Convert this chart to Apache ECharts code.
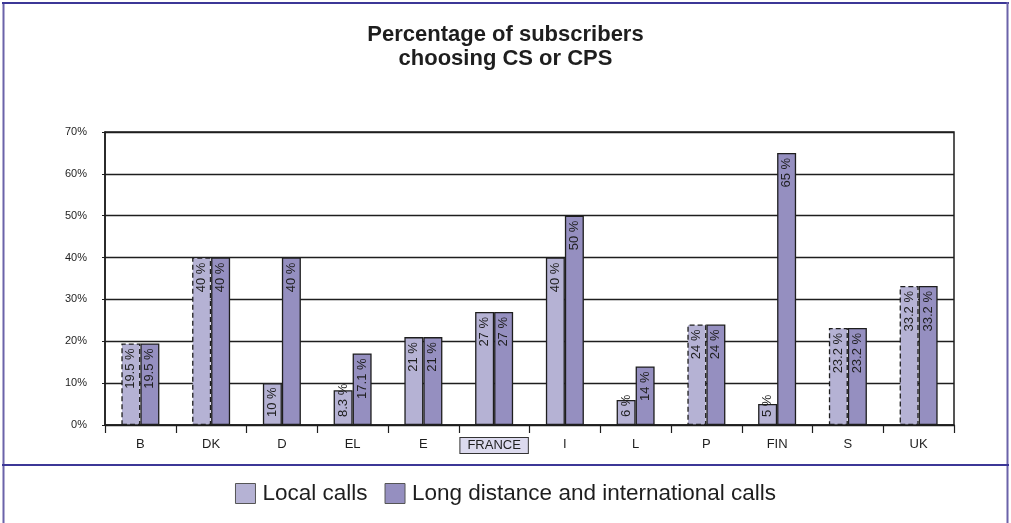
<!DOCTYPE html>
<html>
<head>
<meta charset="utf-8">
<script src="https://cdn.jsdelivr.net/npm/echarts@6/dist/echarts.min.js"></script>
<style>
  html, body { margin: 0; padding: 0; background: #fff; }
  #chart { width: 1011px; height: 523px; }
</style>
</head>
<body>
<div id="chart"></div>
<script>
// Countries and share of subscribers (%) choosing carrier (pre)selection
const countries = ['B', 'DK', 'D', 'EL', 'E', 'FRANCE', 'I', 'L', 'P', 'FIN', 'S', 'UK'];
const localCalls = [19.5, 40, 10, 8.3, 21, 27, 40, 6, 24, 5, 23.2, 33.2];
const longDistanceCalls = [19.5, 40, 40, 17.1, 21, 27, 50, 14, 24, 65, 23.2, 33.2];
// Countries whose local-call figure is outlined with a dashed border
const dashedLocal = ['B', 'DK', 'P', 'S', 'UK'];
const yTicks = [0, 10, 20, 30, 40, 50, 60, 70];

const FONT = '"Liberation Sans", Arial, Helvetica, sans-serif';
const INK = '#1e1e1e';

function barLabel(v) {
  // Short bars carry their label from the base upward, the others hang from the top
  if (v < 12) {
    return { position: 'insideBottom', align: 'left', distance: 8 };
  }
  return { position: 'insideTop', align: 'right', distance: 5 };
}

function buildData(values, dashedNames) {
  return values.map((v, i) => {
    const item = { value: v, label: barLabel(v) };
    if (dashedNames && dashedNames.indexOf(countries[i]) >= 0) {
      item.itemStyle = { borderType: [5, 3] };
    }
    return item;
  });
}

const labelCommon = {
  show: true,
  rotate: 90,
  verticalAlign: 'middle',
  formatter: p => p.value + ' %',
  fontFamily: FONT,
  fontSize: 13,
  color: INK
};

const chart = echarts.init(document.getElementById('chart'), null, { renderer: 'canvas' });

chart.setOption({
  animation: false,
  backgroundColor: '#ffffff',
  title: {
    text: 'Percentage of subscribers\nchoosing CS or CPS',
    left: 'center',
    top: 18,
    textStyle: {
      fontFamily: FONT,
      fontWeight: 'bold',
      fontSize: 22,
      lineHeight: 24,
      color: INK
    }
  },
  legend: {
    top: 477,
    left: 'center',
    itemWidth: 20,
    itemHeight: 20,
    itemGap: 17,
    icon: 'rect',
    textStyle: { fontFamily: FONT, fontSize: 22.5, color: INK, padding: [0, 0, 0, 2] },
    itemStyle: { borderColor: '#555', borderWidth: 1 },
    data: ['Local calls', 'Long distance and international calls']
  },
  grid: {
    left: 105,
    right: 57,
    top: 132,
    bottom: 98,
    show: true,
    borderColor: INK,
    borderWidth: 1.5,
    containLabel: false
  },
  xAxis: {
    type: 'category',
    data: countries,
    axisLine: { lineStyle: { color: INK, width: 1.5 } },
    axisTick: { show: true, interval: 0, length: 8, lineStyle: { color: INK, width: 1.2 } },
    axisLabel: {
      interval: 0,
      fontFamily: FONT,
      fontSize: 13,
      color: INK,
      margin: 13,
      formatter: v => (v === 'FRANCE' ? '{hl|' + v + '}' : v),
      rich: {
        hl: {
          fontFamily: FONT,
          fontSize: 13,
          color: INK,
          backgroundColor: '#dcdaee',
          borderColor: '#333',
          borderWidth: 1,
          padding: [1, 7, 1, 7]
        }
      }
    }
  },
  yAxis: {
    type: 'value',
    min: yTicks[0],
    max: yTicks[yTicks.length - 1],
    interval: 10,
    axisLine: { show: true, lineStyle: { color: INK, width: 1.5 } },
    axisTick: { show: true, length: 3, lineStyle: { color: INK } },
    splitLine: { lineStyle: { color: INK, width: 1.3 } },
    axisLabel: {
      fontFamily: FONT,
      fontSize: 11,
      color: INK,
      margin: 18,
      formatter: v => v + '%'
    }
  },
  series: [
    {
      name: 'Local calls',
      type: 'bar',
      data: buildData(localCalls, dashedLocal),
      barWidth: 19,
      barGap: '0%',
      itemStyle: { color: '#b5b2d4', borderColor: INK, borderWidth: 1.3 },
      label: labelCommon
    },
    {
      name: 'Long distance and international calls',
      type: 'bar',
      data: buildData(longDistanceCalls, null),
      barWidth: 19,
      barGap: '0%',
      itemStyle: { color: '#958fc0', borderColor: INK, borderWidth: 1.3 },
      label: labelCommon
    }
  ],
  graphic: [
    // Page frame and the rule above the key
    { type: 'line', shape: { x1: 3.5, y1: 2, x2: 3.5, y2: 523 }, style: { stroke: '#6b63a9', lineWidth: 2 }, z: 10 },
    { type: 'line', shape: { x1: 2, y1: 3, x2: 1009, y2: 3 }, style: { stroke: '#3c3797', lineWidth: 2 }, z: 10 },
    { type: 'line', shape: { x1: 1007.5, y1: 2, x2: 1007.5, y2: 523 }, style: { stroke: '#6b63a9', lineWidth: 2 }, z: 10 },
    { type: 'line', shape: { x1: 2, y1: 465, x2: 1009, y2: 465 }, style: { stroke: '#3c3797', lineWidth: 2 }, z: 10 }
  ]
});
</script>
</body>
</html>
